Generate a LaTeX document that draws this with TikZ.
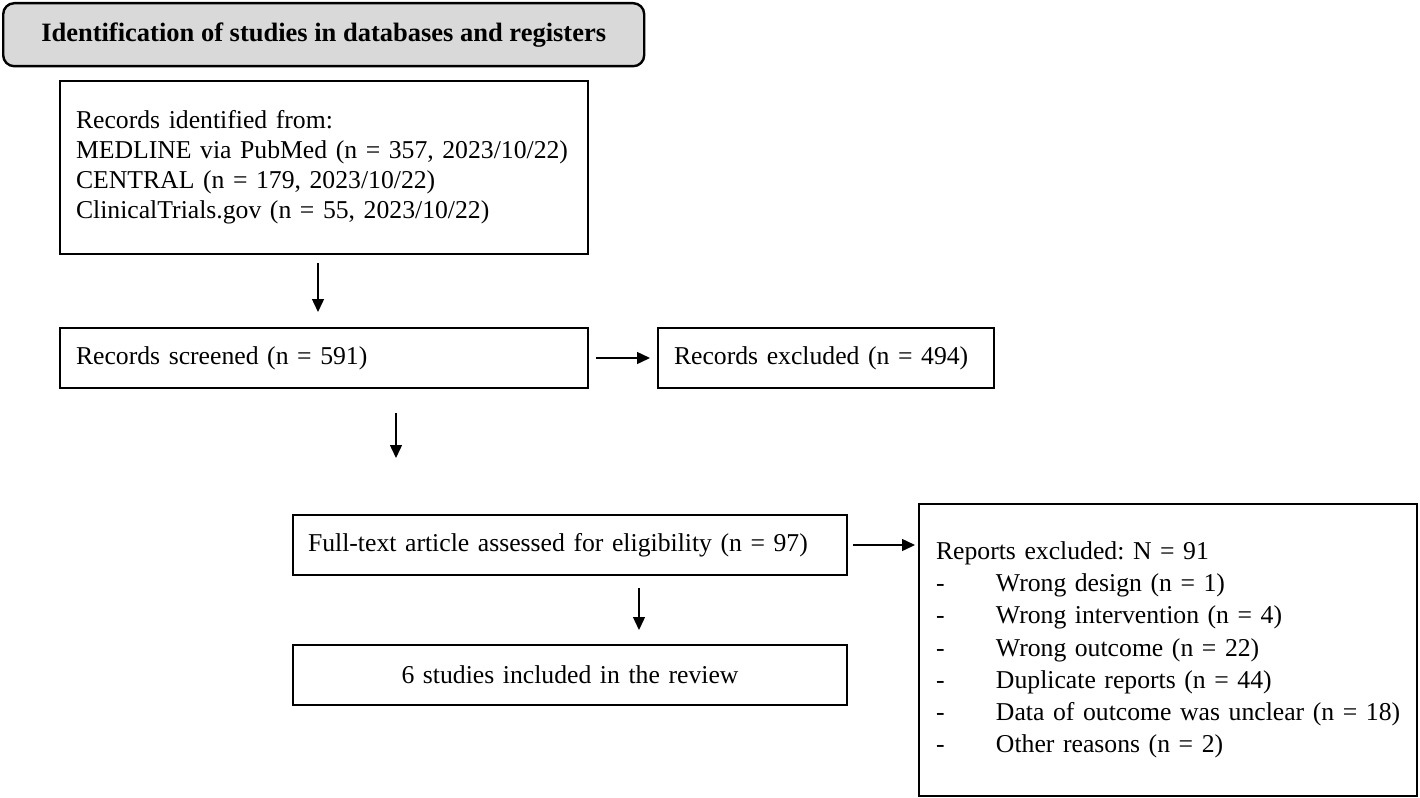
\documentclass[tikz,border=0pt]{standalone}
\usepackage{fontspec}
\setmainfont{Liberation Serif}
\usetikzlibrary{arrows.meta}
\definecolor{titlegray}{RGB}{217,217,217}
\tikzset{
  box/.style={draw=black, line width=2pt, anchor=north west, inner ysep=0pt,
    font=\fontsize{25.7}{30}\selectfont\frenchspacing},
  leftbox/.style={box, align=left, inner xsep=16pt},
  titlebox/.style={draw=black, fill=titlegray, line width=2.4pt, rounded corners=11pt,
    anchor=north west, minimum width=641pt, minimum height=63pt, align=center,
    font=\fontsize{26.5}{30}\selectfont\bfseries},
  arr/.style={line width=1.4pt, -{Triangle[length=13pt,width=12pt]}}
}
\newcommand{\dashitem}[1]{\mbox{\makebox[60pt][l]{-}#1}}
\begin{document}
\frenchspacing
\begin{tikzpicture}[x=1pt,y=-1pt]
\useasboundingbox (0,0) rectangle (1420,797);
\node[titlebox] (title) at (2,2) {Identification of studies in databases and registers};
\node[leftbox, text width=496pt, minimum height=173pt] (ident) at (59,80)
  {\mbox{Records identified from:}\\\mbox{MEDLINE via PubMed (n = 357, 2023/10/22)}\\\mbox{CENTRAL (n = 179, 2023/10/22)}\\\mbox{ClinicalTrials.gov (n = 55, 2023/10/22)}};
\node[leftbox, text width=496pt, minimum height=60pt] (screened) at (59,327) {Records screened (n = 591)};
\node[leftbox, text width=304pt, minimum height=60pt] (excl) at (657,327) {Records excluded (n = 494)};
\node[box, align=left, inner xsep=15pt, text width=524pt, minimum height=60pt] (full) at (292,514) {Full-text article assessed for eligibility (n = 97)};
\node[box, align=center, inner xsep=15pt, text width=524pt, minimum height=60pt] (incl) at (292,644) {6 studies included in the review};
\node[box, align=left, inner xsep=17pt, text width=464pt, minimum height=292pt,
  font=\fontsize{25.7}{32.2}\selectfont\frenchspacing] (rep) at (918,503)
  {\mbox{Reports excluded: N = 91}\\
   \dashitem{Wrong design (n = 1)}\\
   \dashitem{Wrong intervention (n = 4)}\\
   \dashitem{Wrong outcome (n = 22)}\\
   \dashitem{Duplicate reports (n = 44)}\\
   \dashitem{Data of outcome was unclear (n = 18)}\\
   \dashitem{Other reasons (n = 2)}};
\coordinate (a1s) at (318,263);
\coordinate (a1e) at (318,312);
\coordinate (a2s) at (396,413);
\coordinate (a2e) at (396,458);
\coordinate (a3s) at (639,588);
\coordinate (a3e) at (639,630);
\draw[arr] (a1s) -- (a1e);
\draw[arr] (a2s) -- (a2e);
\draw[arr] (a3s) -- (a3e);
\draw[arr, shorten <=7pt, shorten >=7pt] (screened.east) -- (excl.west);
\draw[arr, shorten <=5pt, shorten >=3pt] (full.east) -- (full.east -| rep.west);
\end{tikzpicture}
\end{document}
